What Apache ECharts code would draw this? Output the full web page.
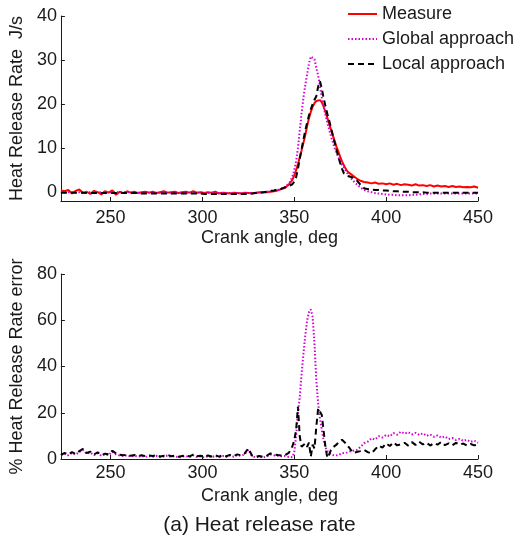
<!DOCTYPE html>
<html>
<head>
<meta charset="utf-8">
<title>Heat release rate</title>
<script src="https://cdn.jsdelivr.net/npm/echarts@6/dist/echarts.min.js"></script>
<style>
  html, body { margin: 0; padding: 0; background: #fff; }
  #chart { width: 519px; height: 540px; }
</style>
</head>
<body>
<div id="chart"></div>
<script>
// Crank angle samples (deg): coarse before/after combustion, 1 deg through the peak
const angles = [
  223,225,227,229,231,233,235,237,239,241,243,245,247,249,251,253,255,257,259,261,
  263,265,267,269,271,273,275,277,279,281,283,285,287,289,291,293,295,297,299,301,
  303,305,307,309,311,313,315,317,319,321,323,325,327,329,331,333,335,337,339,341,
  343,345,
  346,347,348,349,350,351,352,353,354,355,356,357,358,359,360,361,362,363,364,365,
  366,367,368,369,370,371,372,373,374,375,376,377,378,379,380,
  382,384,386,388,390,392,394,396,398,400,402,404,406,408,410,412,414,416,418,420,
  422,424,426,428,430,432,434,436,438,440,442,444,446,448,450
];

// Heat release rate, J/s
const hrrMeasure = [
  0.4,0.2,0.5,-0.3,0.3,0.6,-0.2,0.1,-0.4,0.3,0.0,-0.5,0.2,-0.1,0.4,-0.6,0.1,-0.2,0.2,-0.1,
  0.1,-0.2,0.0,0.1,-0.1,0.1,-0.2,0.0,0.2,-0.1,0.0,0.1,-0.2,0.0,0.1,-0.1,0.2,-0.1,0.0,-0.2,
  0.0,-0.1,0.1,-0.3,-0.1,-0.2,-0.3,-0.1,-0.2,-0.3,-0.1,-0.2,-0.3,-0.1,0.0,-0.1,0.0,0.1,0.2,0.4,
  0.7,1.0,
  1.3,1.7,2.1,2.8,3.8,5.0,6.4,7.9,9.5,11.2,13.0,15.0,16.8,18.2,19.4,20.2,20.7,20.9,20.9,20.4,
  19.4,18.2,16.9,15.5,14.2,12.9,11.6,10.3,9.2,8.0,7.0,6.1,5.3,4.7,4.3,
  3.7,3.1,2.6,2.3,2.2,2.0,2.2,1.9,2.0,1.8,2.0,1.7,1.9,1.6,1.8,1.7,1.5,1.8,1.5,1.6,
  1.4,1.6,1.3,1.5,1.3,1.4,1.2,1.4,1.2,1.3,1.1,1.2,1.1,1.3,1.0
];
const hrrGlobal = [
  0.0,0.0,0.0,0.0,0.0,0.0,0.0,0.0,0.0,0.0,0.0,0.0,0.0,0.0,0.0,0.0,0.0,0.0,0.0,0.0,
  -0.1,-0.1,-0.1,-0.1,-0.1,-0.1,-0.1,-0.1,-0.1,-0.1,-0.1,-0.1,-0.1,-0.1,-0.1,-0.1,-0.1,-0.1,-0.1,-0.2,
  -0.2,-0.2,-0.2,-0.2,-0.2,-0.2,-0.2,-0.2,-0.2,-0.2,-0.2,-0.2,-0.2,-0.2,-0.1,0.0,0.1,0.2,0.3,0.5,
  0.8,1.2,
  1.5,2.0,2.6,3.6,5.0,7.0,10.0,14.0,18.0,21.5,24.3,26.8,29.2,30.8,31.2,30.2,28.2,26.5,24.0,21.5,
  19.4,17.5,15.8,14.2,12.7,11.3,10.0,8.9,7.9,7.0,6.2,5.6,4.9,4.2,3.6,
  2.6,1.8,1.1,0.5,0.2,0.0,-0.2,-0.3,-0.4,-0.5,-0.6,-0.6,-0.7,-0.7,-0.7,-0.7,-0.6,-0.6,-0.5,-0.4,
  -0.4,-0.3,-0.3,-0.3,-0.3,-0.3,-0.3,-0.3,-0.3,-0.3,-0.3,-0.3,-0.3,-0.3,-0.3
];
const hrrLocal = [
  -0.1,-0.1,-0.1,-0.1,-0.1,-0.1,-0.1,-0.2,-0.2,-0.2,-0.2,-0.2,-0.2,-0.2,-0.2,-0.2,-0.2,-0.2,-0.2,-0.2,
  -0.2,-0.2,-0.3,-0.3,-0.3,-0.3,-0.3,-0.3,-0.3,-0.3,-0.3,-0.3,-0.3,-0.3,-0.3,-0.3,-0.3,-0.3,-0.3,-0.4,
  -0.4,-0.4,-0.4,-0.4,-0.4,-0.4,-0.4,-0.4,-0.4,-0.4,-0.4,-0.3,-0.3,-0.2,-0.1,0.0,0.1,0.3,0.4,0.6,
  0.8,1.1,
  1.2,1.4,1.5,1.8,2.4,3.4,5.3,7.6,9.8,12.0,14.0,15.8,17.4,18.8,20.0,21.0,21.8,24.0,25.2,23.5,
  21.3,19.5,17.8,16.3,14.6,12.9,11.2,9.6,8.0,6.6,5.3,4.3,3.9,3.7,3.5,
  3.3,2.7,1.7,0.9,0.7,0.6,0.5,0.5,0.4,0.4,0.3,0.2,0.2,0.1,0.1,0.1,0.0,0.0,0.0,0.0,
  -0.1,-0.1,-0.1,-0.1,-0.1,-0.1,-0.1,-0.1,-0.1,-0.1,-0.1,-0.1,-0.1,-0.1,-0.1
];

// Relative error of each approach, %
const errGlobal = [
  1.5,2.2,1.6,2.6,1.9,3.0,3.9,2.3,2.8,1.7,2.5,1.4,2.0,1.7,3.1,2.0,1.5,1.3,1.6,1.1,
  1.4,1.0,1.3,0.9,1.2,1.0,1.4,0.8,1.1,1.5,0.9,1.2,0.7,1.0,1.3,0.8,1.6,0.9,1.1,0.6,
  1.2,0.8,1.4,0.7,1.3,0.9,1.5,1.0,1.7,1.3,2.0,4.0,1.2,0.7,1.0,0.6,1.1,1.9,1.6,1.4,
  1.2,1.3,
  1.1,0.9,0.8,0.8,3.0,10.0,20.0,27.0,37.0,45.6,53.5,60.0,63.5,64.7,61.5,50.0,34.0,24.0,17.5,12.5,
  8.0,5.0,3.3,2.6,1.9,1.6,1.5,1.6,1.7,2.2,2.5,2.4,2.6,2.9,3.2,
  3.6,3.9,5.2,6.8,7.5,8.9,8.4,9.9,9.3,10.4,9.8,11.2,10.5,11.8,11.0,11.6,10.6,11.3,10.4,11.1,
  10.0,10.6,9.6,10.2,9.2,9.7,8.6,9.1,8.2,8.7,7.8,8.3,7.4,7.9,7.0
];
const errLocal = [
  1.8,2.6,1.9,3.0,2.2,3.4,4.4,2.6,3.2,2.0,2.9,1.7,2.3,2.0,3.6,2.4,1.8,1.6,1.9,1.4,
  1.7,1.3,1.6,1.2,1.5,1.3,1.7,1.1,1.4,1.8,1.2,1.5,1.0,1.3,1.6,1.1,1.9,1.2,1.4,0.8,
  1.5,1.1,1.7,1.0,1.6,1.2,1.8,1.3,2.0,1.6,2.4,4.6,1.5,1.0,1.3,0.9,1.4,2.4,2.0,1.7,
  1.5,1.7,
  2.0,2.6,3.4,5.5,8.2,12.5,22.6,9.6,5.3,5.8,6.8,5.3,7.1,1.0,6.2,4.5,14.0,21.9,20.5,19.0,
  12.0,5.0,0.5,2.0,3.9,5.0,5.6,6.2,7.2,8.0,8.3,7.8,6.8,5.8,4.8,
  2.7,3.0,3.4,3.9,3.0,2.4,4.2,5.8,4.9,6.8,5.6,7.2,5.9,6.4,7.0,5.8,7.3,6.1,7.5,6.3,
  7.1,5.8,6.9,6.2,7.4,6.0,6.8,5.9,7.0,6.2,6.7,5.8,6.5,5.9,6.3
];

// Axis ticks
const angleTicks = [250, 300, 350, 400, 450];
const hrrTicks = [0, 10, 20, 30, 40];
const errTicks = [0, 20, 40, 60, 80];

const FONT = "'Liberation Sans', Arial, Helvetica, sans-serif";
const INK = '#1a1a1a';
const pairs = vals => angles.map((a, i) => [a, vals[i]]);

function xAxisFor(gridIndex, labelMargin) {
  return {
    type: 'value', gridIndex, min: 223, max: 450,
    name: 'Crank angle, deg', nameLocation: 'middle', nameGap: 28,
    nameTextStyle: { fontFamily: FONT, fontSize: 18, color: INK },
    axisLine: { onZero: false, lineStyle: { color: INK, width: 1 } },
    axisTick: { inside: true, length: 4, customValues: angleTicks, lineStyle: { color: INK } },
    axisLabel: { customValues: angleTicks, margin: labelMargin, fontFamily: FONT, fontSize: 18, color: INK },
    splitLine: { show: false }
  };
}
function yAxisFor(gridIndex, name, min, max, ticks) {
  return {
    type: 'value', gridIndex, min, max,
    name, nameLocation: 'middle', nameGap: 31,
    nameTextStyle: { fontFamily: FONT, fontSize: 18, color: INK },
    axisLine: { show: true, onZero: false, lineStyle: { color: INK, width: 1 } },
    axisTick: { show: true, inside: true, length: 4, customValues: ticks, lineStyle: { color: INK } },
    axisLabel: { customValues: ticks, margin: 4, fontFamily: FONT, fontSize: 18, color: INK },
    splitLine: { show: false }
  };
}

const chart = echarts.init(document.getElementById('chart'), null, { renderer: 'canvas' });
chart.setOption({
  backgroundColor: '#fff',
  animation: false,
  title: {
    text: '(a) Heat release rate', left: 'center', top: 510,
    textStyle: { fontFamily: FONT, fontSize: 21, fontWeight: 'normal', color: INK }
  },
  legend: {
    orient: 'vertical', left: 347, top: 5, padding: 0,
    itemWidth: 29, itemHeight: 14, itemGap: 7,
    itemStyle: { opacity: 0, borderWidth: 0 },
    textStyle: { fontFamily: FONT, fontSize: 18, color: INK },
    data: ['Measure', 'Global approach', 'Local approach']
  },
  grid: [
    { left: 56, top: 16, width: 422, height: 185 },
    { left: 56, top: 274, width: 422, height: 185 }
  ],
  xAxis: [xAxisFor(0, 8), xAxisFor(1, 5)],
  yAxis: [
    yAxisFor(0, 'Heat Release Rate  J/s', -2, 40, hrrTicks),
    yAxisFor(1, '% Heat Release Rate error', 0, 80, errTicks)
  ],
  series: [
    { name: 'Measure', type: 'line', xAxisIndex: 0, yAxisIndex: 0, data: pairs(hrrMeasure),
      showSymbol: false, symbol: 'none', color: '#ff0000',
      lineStyle: { color: '#ff0000', width: 2 } },
    { name: 'Global approach', type: 'line', xAxisIndex: 0, yAxisIndex: 0, data: pairs(hrrGlobal),
      showSymbol: false, symbol: 'none', color: '#d600d6',
      lineStyle: { color: '#d600d6', width: 2, type: [1.5, 2] } },
    { name: 'Local approach', type: 'line', xAxisIndex: 0, yAxisIndex: 0, data: pairs(hrrLocal),
      showSymbol: false, symbol: 'none', color: '#000',
      lineStyle: { color: '#000', width: 2, type: [6, 4] } },
    { name: 'Global approach', type: 'line', xAxisIndex: 1, yAxisIndex: 1, data: pairs(errGlobal),
      showSymbol: false, symbol: 'none', color: '#d600d6',
      lineStyle: { color: '#d600d6', width: 2, type: [1.5, 2] } },
    { name: 'Local approach', type: 'line', xAxisIndex: 1, yAxisIndex: 1, data: pairs(errLocal),
      showSymbol: false, symbol: 'none', color: '#000',
      lineStyle: { color: '#000', width: 2, type: [6, 4] } }
  ]
});
</script>
</body>
</html>
